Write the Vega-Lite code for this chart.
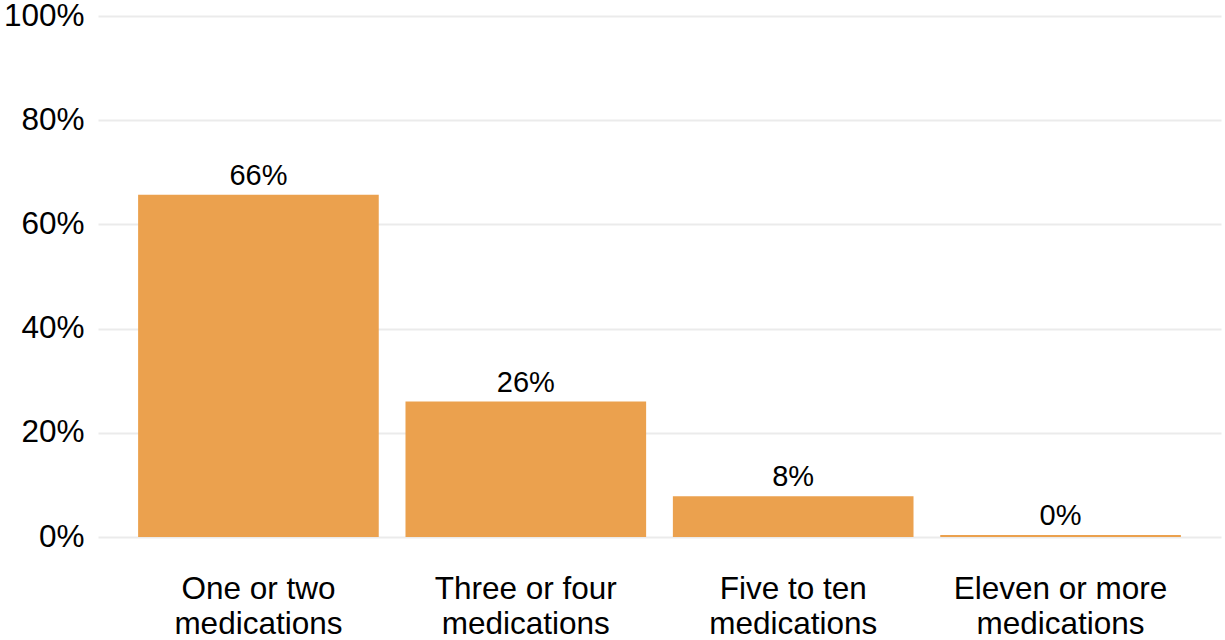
{
  "$schema": "https://vega.github.io/schema/vega-lite/v6.json",
  "width": 1123,
  "height": 521,
  "autosize": {"type": "none"},
  "padding": {"left": 98, "top": 16, "right": 4, "bottom": 103},
  "background": "white",
  "config": {
    "view": {"stroke": null},
    "font": "Liberation Sans"
  },
  "data": {
    "values": [
      {"category": "One or two medications", "share": 0.657},
      {"category": "Three or four medications", "share": 0.26},
      {"category": "Five to ten medications", "share": 0.078},
      {"category": "Eleven or more medications", "share": 0.004}
    ]
  },
  "encoding": {
    "x": {
      "field": "category",
      "type": "nominal",
      "sort": null,
      "scale": {"paddingInner": 0.1, "paddingOuter": 0.15},
      "axis": {
        "title": null,
        "domain": false,
        "ticks": false,
        "labelAngle": 0,
        "labelFontSize": 31.5,
        "labelColor": "#000000",
        "labelPadding": 36,
        "labelLineHeight": 35,
        "labelLimit": 0,
        "labelExpr": "[replace(datum.label, ' medications', ''), 'medications']"
      }
    },
    "y": {
      "field": "share",
      "type": "quantitative",
      "scale": {"domain": [0, 1], "nice": false},
      "axis": {
        "title": null,
        "domain": false,
        "ticks": false,
        "values": [0, 0.2, 0.4, 0.6, 0.8, 1],
        "format": ".0%",
        "labelFontSize": 31.5,
        "labelColor": "#000000",
        "labelPadding": 14,
        "gridColor": "#EBEBEB",
        "gridWidth": 2
      }
    }
  },
  "layer": [
    {"mark": {"type": "bar", "color": "#EBA14E"}},
    {
      "mark": {"type": "text", "baseline": "alphabetic", "dy": -10, "fontSize": 29, "color": "#000000"},
      "encoding": {"text": {"field": "share", "type": "quantitative", "format": ".0%"}}
    }
  ]
}
